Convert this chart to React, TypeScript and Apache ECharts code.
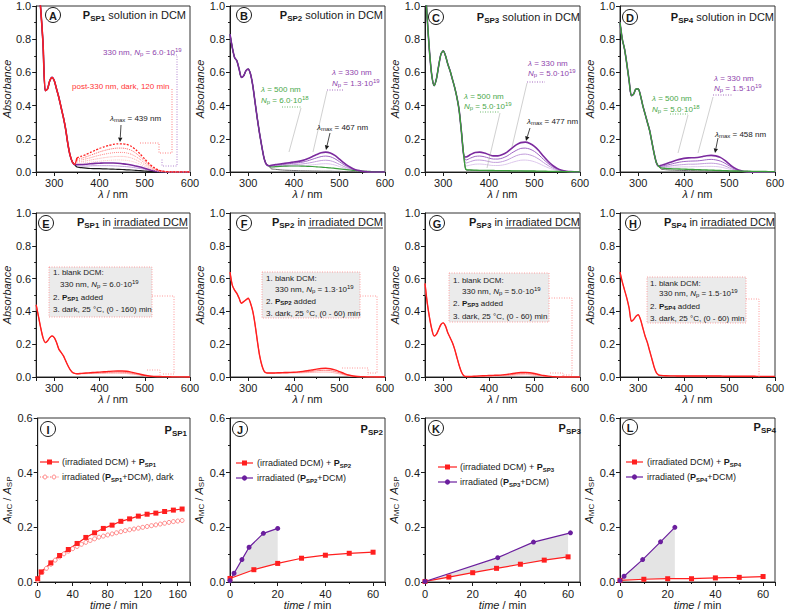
import React, { useEffect, useRef } from 'react';
import * as echarts from 'echarts';

const FONT = '"Liberation Sans", Arial, Helvetica, sans-serif';
const INK = '#1a1a1a';
const RED = '#ff1f1f';
const PURPLE = '#7b2a9e';
const PURPLE2 = '#a066c4';
const PURPLE3 = '#c29ddb';
const PURPLE4 = '#ddc8ec';
const GREEN = '#3b9e3b';
const GRAY = '#6a6a6a';
const TXT_PURPLE = '#8e44ad';
const TXT_GREEN = '#4aa84a';
const TXT_RED = '#ff3434';

// ---------- wavelengths ----------
const wlUV = [260, 265, 270, 275, 280, 285, 290, 295, 300, 305, 310, 315, 320, 325, 330, 335, 340, 345];
const wlVis = [350, 360, 370, 380, 390, 400, 410, 420, 430, 440, 450, 460, 470, 480, 490, 500, 510, 520, 530, 540, 550, 560, 570, 580, 590, 600];

// ---------- Panel A ----------
const uvA = [1.25, 1.12, 0.98, 0.78, 0.49, 0.50, 0.55, 0.57, 0.55, 0.50, 0.45, 0.39, 0.33, 0.26, 0.17, 0.10, 0.06, 0.045];
const visA_black = [0.030, 0.026, 0.023, 0.021, 0.020, 0.020, 0.019, 0.018, 0.017, 0.016, 0.015, 0.013, 0.012, 0.010, 0.008, 0.006, 0.004, 0.003, 0.002, 0.001, 0, 0, 0, 0, 0, 0];
const visA_purple = [0.045, 0.045, 0.047, 0.050, 0.052, 0.053, 0.054, 0.054, 0.054, 0.053, 0.050, 0.047, 0.042, 0.036, 0.030, 0.022, 0.014, 0.008, 0.004, 0.002, 0, 0, 0, 0, 0, 0];
const visA_purpleLight = [0.038, 0.036, 0.036, 0.037, 0.038, 0.038, 0.038, 0.038, 0.037, 0.036, 0.034, 0.032, 0.029, 0.025, 0.021, 0.016, 0.010, 0.006, 0.003, 0.001, 0, 0, 0, 0, 0, 0];
const visA_red1 = [0.085, 0.095, 0.105, 0.118, 0.130, 0.142, 0.152, 0.160, 0.166, 0.170, 0.170, 0.166, 0.155, 0.135, 0.108, 0.078, 0.050, 0.028, 0.012, 0.005, 0.002, 0, 0, 0, 0, 0];
const visA_red2 = [0.076, 0.083, 0.091, 0.101, 0.111, 0.121, 0.129, 0.136, 0.141, 0.144, 0.144, 0.140, 0.131, 0.114, 0.091, 0.066, 0.042, 0.024, 0.010, 0.004, 0.001, 0, 0, 0, 0, 0];
const visA_red3 = [0.068, 0.073, 0.079, 0.086, 0.094, 0.101, 0.107, 0.112, 0.116, 0.118, 0.118, 0.115, 0.107, 0.093, 0.075, 0.054, 0.035, 0.019, 0.008, 0.003, 0.001, 0, 0, 0, 0, 0];
const visA_red4 = [0.060, 0.063, 0.067, 0.072, 0.077, 0.082, 0.086, 0.090, 0.092, 0.094, 0.094, 0.091, 0.085, 0.074, 0.059, 0.043, 0.027, 0.015, 0.007, 0.003, 0.001, 0, 0, 0, 0, 0];
const visA_red5 = [0.052, 0.054, 0.056, 0.059, 0.062, 0.065, 0.068, 0.070, 0.072, 0.073, 0.072, 0.070, 0.065, 0.057, 0.046, 0.033, 0.021, 0.012, 0.005, 0.002, 0.001, 0, 0, 0, 0, 0];

// ---------- Panel B ----------
const uvB = [0.83, 0.75, 0.69, 0.67, 0.62, 0.57, 0.58, 0.61, 0.62, 0.59, 0.52, 0.42, 0.32, 0.23, 0.15, 0.08, 0.045, 0.038];
const visB_p1 = [0.040, 0.045, 0.048, 0.052, 0.056, 0.060, 0.064, 0.070, 0.080, 0.092, 0.105, 0.116, 0.120, 0.115, 0.100, 0.078, 0.055, 0.035, 0.020, 0.010, 0.005, 0.002, 0, 0, 0, 0];
const visB_p2 = [0.037, 0.041, 0.044, 0.047, 0.050, 0.053, 0.056, 0.060, 0.067, 0.076, 0.085, 0.093, 0.096, 0.092, 0.080, 0.062, 0.044, 0.028, 0.016, 0.008, 0.004, 0.001, 0, 0, 0, 0];
const visB_p3 = [0.033, 0.036, 0.038, 0.040, 0.042, 0.044, 0.046, 0.049, 0.053, 0.058, 0.064, 0.069, 0.071, 0.068, 0.059, 0.046, 0.033, 0.021, 0.012, 0.006, 0.003, 0.001, 0, 0, 0, 0];
const visB_p4 = [0.030, 0.032, 0.033, 0.034, 0.035, 0.036, 0.037, 0.038, 0.040, 0.043, 0.046, 0.049, 0.050, 0.048, 0.042, 0.033, 0.024, 0.015, 0.009, 0.004, 0.002, 0.001, 0, 0, 0, 0];
const visB_green = [0.030, 0.032, 0.034, 0.035, 0.036, 0.036, 0.036, 0.035, 0.034, 0.033, 0.031, 0.029, 0.027, 0.025, 0.022, 0.019, 0.016, 0.013, 0.010, 0.008, 0.006, 0.004, 0.003, 0.002, 0.001, 0.001];
const visB_gray = [0.020, 0.016, 0.013, 0.011, 0.010, 0.009, 0.008, 0.007, 0.007, 0.006, 0.006, 0.005, 0.005, 0.005, 0.004, 0.004, 0.003, 0.003, 0.002, 0.002, 0.002, 0.001, 0.001, 0.001, 0, 0];

// ---------- Panel C ----------
const uvC = [1.15, 0.92, 0.72, 0.58, 0.52, 0.56, 0.64, 0.71, 0.73, 0.70, 0.65, 0.61, 0.56, 0.51, 0.45, 0.37, 0.24, 0.10];
const visC_p1 = [0.090, 0.105, 0.118, 0.120, 0.115, 0.105, 0.097, 0.097, 0.105, 0.120, 0.142, 0.163, 0.177, 0.180, 0.172, 0.155, 0.128, 0.095, 0.065, 0.040, 0.022, 0.011, 0.005, 0.002, 0.001, 0];
const visC_p2 = [0.072, 0.084, 0.094, 0.096, 0.092, 0.084, 0.078, 0.078, 0.084, 0.096, 0.114, 0.130, 0.142, 0.144, 0.138, 0.124, 0.102, 0.076, 0.052, 0.032, 0.018, 0.009, 0.004, 0.002, 0.001, 0];
const visC_p3 = [0.054, 0.063, 0.071, 0.072, 0.069, 0.063, 0.058, 0.058, 0.063, 0.072, 0.085, 0.098, 0.106, 0.108, 0.103, 0.093, 0.077, 0.057, 0.039, 0.024, 0.013, 0.007, 0.003, 0.001, 0.001, 0];
const visC_p4 = [0.036, 0.042, 0.047, 0.048, 0.046, 0.042, 0.039, 0.039, 0.042, 0.048, 0.057, 0.065, 0.071, 0.072, 0.069, 0.062, 0.051, 0.038, 0.026, 0.016, 0.009, 0.004, 0.002, 0.001, 0, 0];
const visC_green = [0.015, 0.012, 0.011, 0.010, 0.010, 0.009, 0.009, 0.008, 0.008, 0.008, 0.007, 0.007, 0.007, 0.006, 0.006, 0.006, 0.005, 0.005, 0.004, 0.004, 0.003, 0.003, 0.002, 0.002, 0.001, 0.001];
const visC_gray = [0.012, 0.010, 0.009, 0.008, 0.008, 0.007, 0.007, 0.006, 0.006, 0.006, 0.005, 0.005, 0.005, 0.004, 0.004, 0.004, 0.003, 0.003, 0.003, 0.002, 0.002, 0.002, 0.001, 0.001, 0.001, 0];

// ---------- Panel D ----------
const uvD = [0.90, 0.80, 0.74, 0.65, 0.55, 0.46, 0.47, 0.50, 0.50, 0.46, 0.40, 0.35, 0.30, 0.25, 0.18, 0.11, 0.055, 0.035];
const visD_p1 = [0.040, 0.048, 0.058, 0.068, 0.076, 0.082, 0.085, 0.086, 0.087, 0.092, 0.098, 0.100, 0.097, 0.088, 0.070, 0.047, 0.026, 0.012, 0.005, 0.002, 0, 0, 0, 0, 0, 0];
const visD_p2 = [0.035, 0.040, 0.046, 0.053, 0.059, 0.063, 0.065, 0.066, 0.067, 0.070, 0.074, 0.076, 0.073, 0.066, 0.053, 0.036, 0.020, 0.009, 0.004, 0.001, 0, 0, 0, 0, 0, 0];
const visD_p3 = [0.030, 0.033, 0.036, 0.040, 0.043, 0.045, 0.047, 0.047, 0.048, 0.050, 0.052, 0.053, 0.051, 0.046, 0.037, 0.025, 0.014, 0.006, 0.003, 0.001, 0, 0, 0, 0, 0, 0];
const visD_p4 = [0.025, 0.026, 0.028, 0.029, 0.030, 0.031, 0.031, 0.032, 0.032, 0.033, 0.034, 0.034, 0.033, 0.030, 0.024, 0.017, 0.010, 0.005, 0.002, 0.001, 0, 0, 0, 0, 0, 0];
const visD_green = [0.025, 0.022, 0.020, 0.019, 0.018, 0.017, 0.016, 0.015, 0.014, 0.013, 0.012, 0.011, 0.010, 0.009, 0.008, 0.007, 0.006, 0.006, 0.005, 0.005, 0.004, 0.004, 0.003, 0.003, 0.002, 0.002];
const visD_gray = [0.018, 0.014, 0.012, 0.011, 0.010, 0.009, 0.008, 0.008, 0.007, 0.007, 0.006, 0.006, 0.005, 0.005, 0.005, 0.004, 0.004, 0.003, 0.003, 0.003, 0.002, 0.002, 0.002, 0.001, 0.001, 0.001];

// ---------- Panels E-H ----------
const uvE = [0.44, 0.37, 0.30, 0.24, 0.21, 0.22, 0.24, 0.25, 0.24, 0.21, 0.17, 0.15, 0.13, 0.10, 0.07, 0.045, 0.028, 0.022];
const visE_r1 = [0.020, 0.022, 0.024, 0.026, 0.028, 0.030, 0.032, 0.034, 0.036, 0.037, 0.037, 0.035, 0.030, 0.024, 0.017, 0.011, 0.006, 0.004, 0.003, 0.002, 0.002, 0.001, 0.001, 0.001, 0, 0];
const visE_r2 = [0.020, 0.021, 0.022, 0.024, 0.025, 0.026, 0.027, 0.028, 0.029, 0.030, 0.029, 0.027, 0.023, 0.019, 0.014, 0.009, 0.005, 0.003, 0.002, 0.002, 0.001, 0.001, 0.001, 0, 0, 0];
const visE_r3 = [0.019, 0.019, 0.020, 0.021, 0.021, 0.022, 0.022, 0.023, 0.023, 0.023, 0.022, 0.021, 0.018, 0.015, 0.011, 0.007, 0.004, 0.002, 0.001, 0.001, 0.001, 0, 0, 0, 0, 0];

const uvF = [0.64, 0.56, 0.53, 0.51, 0.48, 0.45, 0.46, 0.47, 0.48, 0.45, 0.40, 0.32, 0.22, 0.13, 0.07, 0.035, 0.025, 0.024];
const visF_r1 = [0.024, 0.025, 0.026, 0.027, 0.028, 0.029, 0.031, 0.034, 0.038, 0.043, 0.048, 0.052, 0.053, 0.050, 0.043, 0.033, 0.022, 0.012, 0.006, 0.003, 0.002, 0.001, 0.001, 0, 0, 0];
const visF_r2 = [0.024, 0.024, 0.025, 0.025, 0.026, 0.027, 0.028, 0.030, 0.032, 0.035, 0.038, 0.040, 0.041, 0.039, 0.034, 0.026, 0.017, 0.010, 0.005, 0.002, 0.001, 0.001, 0, 0, 0, 0];
const visF_r3 = [0.023, 0.023, 0.024, 0.024, 0.024, 0.025, 0.025, 0.026, 0.027, 0.028, 0.029, 0.030, 0.030, 0.029, 0.025, 0.019, 0.013, 0.007, 0.004, 0.002, 0.001, 0, 0, 0, 0, 0];

const uvG = [0.57, 0.45, 0.36, 0.29, 0.25, 0.26, 0.29, 0.32, 0.33, 0.31, 0.27, 0.24, 0.21, 0.17, 0.12, 0.07, 0.03, 0.008];
const visG_r1 = [0.003, 0.003, 0.005, 0.007, 0.008, 0.009, 0.010, 0.011, 0.013, 0.016, 0.020, 0.024, 0.027, 0.028, 0.026, 0.021, 0.015, 0.009, 0.005, 0.002, 0.001, 0, 0, 0, 0, 0];
const visG_r2 = [0.003, 0.003, 0.004, 0.005, 0.006, 0.007, 0.008, 0.009, 0.010, 0.012, 0.015, 0.018, 0.020, 0.021, 0.019, 0.016, 0.011, 0.007, 0.004, 0.002, 0.001, 0, 0, 0, 0, 0];
const visG_r3 = [0.002, 0.002, 0.003, 0.004, 0.004, 0.005, 0.005, 0.006, 0.007, 0.008, 0.010, 0.012, 0.013, 0.014, 0.013, 0.010, 0.007, 0.005, 0.003, 0.001, 0, 0, 0, 0, 0, 0];

const uvH = [0.64, 0.58, 0.53, 0.48, 0.42, 0.34, 0.35, 0.37, 0.38, 0.35, 0.30, 0.25, 0.21, 0.16, 0.11, 0.06, 0.025, 0.012];
const visH_r1 = [0.010, 0.008, 0.007, 0.007, 0.006, 0.006, 0.006, 0.006, 0.006, 0.006, 0.006, 0.006, 0.006, 0.006, 0.005, 0.005, 0.005, 0.005, 0.005, 0.005, 0.005, 0.004, 0.004, 0.004, 0.004, 0.004];
const visH_r2 = [0.009, 0.007, 0.006, 0.006, 0.005, 0.005, 0.005, 0.005, 0.005, 0.005, 0.005, 0.005, 0.005, 0.005, 0.004, 0.004, 0.004, 0.004, 0.004, 0.004, 0.004, 0.003, 0.003, 0.003, 0.003, 0.003];

// ---------- Panels I-L (kinetics) ----------
const I_tRed = [0, 4, 15, 25, 35, 45, 55, 65, 75, 85, 95, 105, 115, 125, 135, 145, 155, 165];
const I_vRed = [0.012, 0.037, 0.070, 0.097, 0.119, 0.141, 0.163, 0.180, 0.196, 0.208, 0.222, 0.231, 0.241, 0.248, 0.252, 0.258, 0.263, 0.267];
const I_tDark = [0, 5, 10, 15, 20, 25, 30, 35, 40, 45, 50, 55, 60, 65, 70, 75, 80, 85, 90, 95, 100, 105, 110, 115, 120, 125, 130, 135, 140, 145, 150, 155, 160, 165];
const I_vDark = [0.005, 0.035, 0.050, 0.065, 0.080, 0.092, 0.103, 0.113, 0.122, 0.130, 0.138, 0.145, 0.152, 0.158, 0.164, 0.168, 0.172, 0.176, 0.180, 0.184, 0.188, 0.191, 0.194, 0.197, 0.200, 0.203, 0.206, 0.209, 0.212, 0.215, 0.218, 0.221, 0.223, 0.225];

const J_tRed = [0, 10, 20, 30, 40, 50, 60];
const J_vRed = [0.013, 0.045, 0.068, 0.087, 0.098, 0.105, 0.109];
const J_tPur = [0, 1.7, 5, 8, 14, 20];
const J_vPur = [0.005, 0.032, 0.082, 0.127, 0.178, 0.196];
const J_shade = [[0, 0.005], [1.7, 0.032], [5, 0.082], [8, 0.127], [14, 0.178], [20, 0.196], [20, 0.068], [10, 0.045], [0, 0.013]];

const K_tRed = [0, 10, 20, 30, 40, 50, 60];
const K_vRed = [0.002, 0.018, 0.034, 0.050, 0.065, 0.080, 0.092];
const K_tPur = [0, 30.5, 45.5, 61];
const K_vPur = [0.002, 0.089, 0.146, 0.180];
const K_shade = [[0, 0.002], [30.5, 0.089], [45.5, 0.146], [60, 0.178], [60, 0.092], [50, 0.080], [40, 0.065], [30, 0.050], [20, 0.034], [10, 0.018], [0, 0.002]];

const L_tRed = [0, 10, 20, 30, 40, 50, 60];
const L_vRed = [0.006, 0.010, 0.012, 0.012, 0.015, 0.017, 0.020];
const L_tPur = [0, 1.7, 9.5, 17, 23];
const L_vPur = [0.005, 0.021, 0.082, 0.147, 0.200];
const L_shade = [[0, 0.005], [1.7, 0.021], [9.5, 0.082], [17, 0.147], [23, 0.200], [23, 0.012], [20, 0.012], [10, 0.010], [0, 0.006]];

// axis settings
const timeMax = [174, 65, 65, 65];
const timeInterval = [40, 20, 20, 20];
const LEFTS = [35, 230, 425, 620];
const TOPS = [6, 213, 418];
const HEIGHTS = [166, 164, 164];
const WIDTH = 155;

const wlAll = wlUV.concat(wlVis);
const zip = (xs: number[], ys: number[]) => xs.map((x, i) => [x, ys[i]]);

function specLine(gi: number, xs: number[], ys: number[], color: string, width = 1, type: any = 'solid', z = 2) {
  return {
    type: 'line', xAxisIndex: gi, yAxisIndex: gi, data: zip(xs, ys), symbol: 'none', smooth: 0.25,
    lineStyle: { color, width, type }, z, silent: true, animation: false,
  };
}

const axisCommon = {
  axisLine: { show: true, onZero: false, lineStyle: { color: INK, width: 1 } },
  axisTick: { show: true, inside: false, length: 4, lineStyle: { color: INK } },
  minorTick: { show: true, splitNumber: 2, length: 2, lineStyle: { color: INK } },
  splitLine: { show: false },
};

const axRich = (fs: number) => ({
  i: { fontFamily: FONT, fontSize: fs, fontStyle: 'italic', color: INK },
  n: { fontFamily: FONT, fontSize: fs, color: INK },
  s: { fontFamily: FONT, fontSize: Math.round(fs * 0.72), color: INK, verticalAlign: 'bottom', padding: [Math.round(fs * 0.5), 0, 0, 0] },
});

function specX(gi: number) {
  return {
    type: 'value', gridIndex: gi, min: 260, max: 600, splitNumber: 4,
    name: '{i|λ}{n| / nm}', nameLocation: 'middle', nameGap: 13,
    nameTextStyle: { fontFamily: FONT, fontSize: 11, color: INK, rich: axRich(11) },
    axisLabel: { margin: 5, fontFamily: FONT, fontSize: 11, color: INK, formatter: (v: number) => (v % 100 === 0 ? String(v) : '') },
    ...axisCommon,
  };
}
function timeX(gi: number, max: number, interval: number) {
  return {
    type: 'value', gridIndex: gi, min: 0, max, interval,
    name: '{i|time}{n| / min}', nameLocation: 'middle', nameGap: 16,
    nameTextStyle: { fontFamily: FONT, fontSize: 11, color: INK, rich: axRich(11) },
    axisLabel: { margin: 6, fontFamily: FONT, fontSize: 11, color: INK, formatter: (v: number) => (Math.abs(v % interval) < 1e-9 ? String(v) : '') },
    ...axisCommon,
  };
}
function absY(gi: number) {
  return {
    type: 'value', gridIndex: gi, min: 0, max: 1, interval: 0.2,
    name: 'Absorbance', nameLocation: 'middle', nameGap: 21,
    nameTextStyle: { fontFamily: FONT, fontSize: 11, fontStyle: 'italic', color: INK },
    axisLabel: { margin: 5, fontFamily: FONT, fontSize: 11, color: INK, formatter: (v: number) => v.toFixed(1) },
    ...axisCommon,
  };
}
function ratioY(gi: number) {
  return {
    type: 'value', gridIndex: gi, min: 0, max: 0.6, interval: 0.2,
    name: '{i|A}{s|MC}{n| / }{i|A}{s|SP}', nameLocation: 'middle', nameGap: 21,
    nameTextStyle: { fontFamily: FONT, fontSize: 11, color: INK, rich: axRich(11) },
    axisLabel: { margin: 5, fontFamily: FONT, fontSize: 11, color: INK, formatter: (v: number) => v.toFixed(1) },
    ...axisCommon,
  };
}

// ---------- graphic helpers ----------
const gRich = (fs: number) => {
  const sfs = Math.round(fs * 0.72);
  const pad = Math.round(fs * 0.5);
  return {
    n: { fontFamily: FONT, fontSize: fs },
    i: { fontFamily: FONT, fontSize: fs, fontStyle: 'italic' },
    b: { fontFamily: FONT, fontSize: fs, fontWeight: 'bold' },
    s: { fontFamily: FONT, fontSize: sfs, verticalAlign: 'bottom', padding: [pad, 0, 0, 0] },
    bs: { fontFamily: FONT, fontSize: sfs, fontWeight: 'bold', verticalAlign: 'bottom', padding: [pad, 0, 0, 0] },
    u: { fontFamily: FONT, fontSize: sfs, verticalAlign: 'top', padding: [0, 0, pad, 0] },
  };
};
function T(x: number, y: number, text: string, fs: number, fill: string, align = 'left', extra: any = {}) {
  return {
    type: 'text', x, y, z: 100, silent: true,
    style: { text, fill, fontFamily: FONT, fontSize: fs, textAlign: align, textVerticalAlign: 'middle', rich: gRich(fs), ...extra },
  };
}
function L(x1: number, y1: number, x2: number, y2: number, stroke: string, lineWidth = 0.8, dash: any = null) {
  return { type: 'line', z: 99, silent: true, shape: { x1, y1, x2, y2 }, style: { stroke, lineWidth, lineDash: dash } };
}
function PL(points: number[][], stroke: string, lineWidth = 0.8, dash: any = [1, 1.5]) {
  return { type: 'polyline', z: 99, silent: true, shape: { points }, style: { stroke, lineWidth, lineDash: dash, fill: null } };
}
function arrow(x1: number, y1: number, x2: number, y2: number) {
  const ang = Math.atan2(y2 - y1, x2 - x1);
  const hl = 4.5, hw = 2.2;
  const bx = x2 - hl * Math.cos(ang), by = y2 - hl * Math.sin(ang);
  const px = -Math.sin(ang) * hw, py = Math.cos(ang) * hw;
  return [
    L(x1, y1, bx, by, INK, 0.8),
    { type: 'polygon', z: 99, silent: true, shape: { points: [[x2, y2], [bx + px, by + py], [bx - px, by - py]] }, style: { fill: INK } },
  ];
}
function circleLabel(cx: number, cy: number, letter: string) {
  return [
    { type: 'circle', z: 100, silent: true, shape: { cx, cy, r: 7.5 }, style: { fill: '#fff', stroke: INK, lineWidth: 1 } },
    { type: 'text', z: 101, silent: true, x: cx, y: cy + 0.5, style: { text: letter, fill: INK, fontFamily: FONT, fontSize: 11, fontWeight: 'bold', textAlign: 'center', textVerticalAlign: 'middle' } },
  ];
}
function legendRow(x1: number, x2: number, y: number, color: string, kind: string, text: string, tx: number) {
  const out: any[] = [L(x1, y, x2, y, color, 1.2, kind === 'open' ? [1, 1.5] : null)];
  const mx = (x1 + x2) / 2;
  if (kind === 'sq') out.push({ type: 'rect', z: 100, silent: true, shape: { x: mx - 2.5, y: y - 2.5, width: 5, height: 5 }, style: { fill: color } });
  if (kind === 'dot') out.push({ type: 'circle', z: 100, silent: true, shape: { cx: mx, cy: y, r: 2.6 }, style: { fill: color } });
  if (kind === 'open') {
    out.push({ type: 'circle', z: 100, silent: true, shape: { cx: x1 + 5, cy: y, r: 2 }, style: { fill: '#fff', stroke: color, lineWidth: 0.8 } });
    out.push({ type: 'circle', z: 100, silent: true, shape: { cx: x2 - 5, cy: y, r: 2 }, style: { fill: '#fff', stroke: color, lineWidth: 0.8 } });
  }
  out.push(T(tx, y, text, 9, INK));
  return out;
}

function buildOption() {
  const grid: any[] = [], xAxis: any[] = [], yAxis: any[] = [], series: any[] = [];
  for (let r = 0; r < 3; r++) {
    for (let c = 0; c < 4; c++) {
      const gi = r * 4 + c;
      grid.push({ left: LEFTS[c], top: TOPS[r], width: WIDTH, height: HEIGHTS[r], show: true, borderColor: '#333', borderWidth: 1 });
      xAxis.push(r < 2 ? specX(gi) : timeX(gi, timeMax[c], timeInterval[c]));
      yAxis.push(r < 2 ? absY(gi) : ratioY(gi));
    }
  }
  const full = (uv: number[], vis: number[]) => uv.concat(vis);

  // A
  series.push(specLine(0, wlAll, full(uvA, visA_purpleLight), PURPLE3, 1));
  series.push(specLine(0, wlAll, full(uvA, visA_black), INK, 1.2));
  series.push(specLine(0, wlAll, full(uvA, visA_purple), PURPLE, 1.6));
  series.push(specLine(0, wlVis, visA_red5, '#ffc4c4', 1, 'dotted'));
  series.push(specLine(0, wlVis, visA_red4, '#ffa6a6', 1, 'dotted'));
  series.push(specLine(0, wlVis, visA_red3, '#ff8585', 1, 'dotted'));
  series.push(specLine(0, wlVis, visA_red2, '#ff6060', 1, 'dotted'));
  series.push(specLine(0, wlVis, visA_red1, RED, 1.3, [2, 1.5], 3));
  series.push(specLine(0, wlUV.concat([350]), uvA.concat([visA_red1[0]]), RED, 1.5, 'solid', 3));

  // B
  series.push(specLine(1, wlAll, full(uvB, visB_p4), PURPLE4, 1));
  series.push(specLine(1, wlAll, full(uvB, visB_p3), PURPLE3, 1));
  series.push(specLine(1, wlAll, full(uvB, visB_p2), PURPLE2, 1));
  series.push(specLine(1, wlAll, full(uvB, visB_gray), GRAY, 1));
  series.push(specLine(1, wlAll, full(uvB, visB_green), GREEN, 1.2));
  series.push(specLine(1, wlAll, full(uvB, visB_p1), PURPLE, 1.6, 'solid', 3));

  // C
  series.push(specLine(2, wlAll, full(uvC, visC_p4), PURPLE4, 1));
  series.push(specLine(2, wlAll, full(uvC, visC_p3), PURPLE3, 1));
  series.push(specLine(2, wlAll, full(uvC, visC_p2), PURPLE2, 1));
  series.push(specLine(2, wlAll, full(uvC, visC_p1), PURPLE, 1.6));
  series.push(specLine(2, wlAll, full(uvC, visC_gray), GRAY, 1));
  series.push(specLine(2, wlAll, full(uvC, visC_green), GREEN, 1.3, 'solid', 3));

  // D
  series.push(specLine(3, wlAll, full(uvD, visD_p4), PURPLE4, 1));
  series.push(specLine(3, wlAll, full(uvD, visD_p3), PURPLE3, 1));
  series.push(specLine(3, wlAll, full(uvD, visD_p2), PURPLE2, 1));
  series.push(specLine(3, wlAll, full(uvD, visD_p1), PURPLE, 1.6));
  series.push(specLine(3, wlAll, full(uvD, visD_gray), GRAY, 1));
  series.push(specLine(3, wlAll, full(uvD, visD_green), GREEN, 1.3, 'solid', 3));

  // E-H
  const rowTwo: [number, number[], number[][]][] = [
    [4, uvE, [visE_r3, visE_r2, visE_r1]],
    [5, uvF, [visF_r3, visF_r2, visF_r1]],
    [6, uvG, [visG_r3, visG_r2, visG_r1]],
    [7, uvH, [visH_r2, visH_r1]],
  ];
  const reds = ['#ffb8b8', '#ff7d7d', RED];
  rowTwo.forEach(([gi, uv, viss]) => {
    viss.forEach((v, k) => {
      const col = reds[reds.length - viss.length + k];
      series.push(specLine(gi, wlAll, full(uv, v), col, k === viss.length - 1 ? 1.4 : 1));
    });
  });

  // I
  series.push({
    type: 'line', xAxisIndex: 8, yAxisIndex: 8, data: zip(I_tDark, I_vDark), symbol: 'circle', symbolSize: 4,
    lineStyle: { color: '#ff7070', width: 1, type: 'dotted' }, itemStyle: { color: '#fff', borderColor: '#ff6a6a', borderWidth: 0.8 }, silent: true,
  });
  series.push({
    type: 'line', xAxisIndex: 8, yAxisIndex: 8, data: zip(I_tRed, I_vRed), symbol: 'rect', symbolSize: 5,
    lineStyle: { color: RED, width: 1.2 }, itemStyle: { color: RED }, silent: true,
  });

  const shadeSeries = (gi: number, pts: number[][]) => ({
    type: 'custom', xAxisIndex: gi, yAxisIndex: gi, data: [[0, 0]], silent: true, z: 1,
    renderItem: (_p: any, api: any) => ({
      type: 'polygon', shape: { points: pts.map((p) => api.coord(p)) }, style: { fill: '#e4e4e4', stroke: null },
    }),
  });
  const kin: [number, number[], number[], number[], number[], number[][]][] = [
    [9, J_tRed, J_vRed, J_tPur, J_vPur, J_shade],
    [10, K_tRed, K_vRed, K_tPur, K_vPur, K_shade],
    [11, L_tRed, L_vRed, L_tPur, L_vPur, L_shade],
  ];
  kin.forEach(([gi, tr, vr, tp, vp, sh]) => {
    series.push(shadeSeries(gi, sh));
    series.push({
      type: 'line', xAxisIndex: gi, yAxisIndex: gi, data: zip(tr, vr), symbol: 'rect', symbolSize: 5,
      lineStyle: { color: RED, width: 1.2 }, itemStyle: { color: RED }, silent: true, z: 3,
    });
    series.push({
      type: 'line', xAxisIndex: gi, yAxisIndex: gi, data: zip(tp, vp), symbol: 'circle', symbolSize: 5,
      lineStyle: { color: '#6b1f9e', width: 1.2 }, itemStyle: { color: '#6b1f9e' }, silent: true, z: 3,
    });
  });

  // ---------- graphic ----------
  const g: any[] = [];
  const circ: [number, number, string][] = [
    [53, 15, 'A'], [244, 15, 'B'], [436, 17, 'C'], [630, 17, 'D'],
    [46, 223, 'E'], [244, 223, 'F'], [437, 223, 'G'], [633, 223, 'H'],
    [48, 429, 'I'], [240, 429, 'J'], [436, 428, 'K'], [630, 427, 'L'],
  ];
  circ.forEach(([x, y, l]) => g.push(...circleLabel(x, y, l)));

  const t1: [number, number, string][] = [[186, 15, '1'], [383, 15, '2'], [580, 17, '3'], [774, 17, '4']];
  t1.forEach(([x, y, n]) => g.push(T(x, y, `{b|P}{bs|SP${n}} solution in DCM`, 11, INK, 'right')));
  const t2: [number, number, string][] = [[188, 222, '1'], [383, 222, '2'], [580, 222, '3'], [775, 222, '4']];
  t2.forEach(([x, y, n]) => {
    g.push(T(x, y, `{b|P}{bs|SP${n}} in irradiated DCM`, 11, INK, 'right'));
    g.push(L(x - 75, y + 6, x, y + 6, INK, 0.9));
  });
  const t3: [number, number, string][] = [[187, 430, '1'], [383, 429, '2'], [581, 428, '3'], [776, 427, '4']];
  t3.forEach(([x, y, n]) => g.push(T(x, y, `{b|P}{bs|SP${n}}`, 11, INK, 'right')));

  // Panel A annotations
  g.push(T(103, 52, '330 nm, {i|N}{s|p} = 6.0·10{u|19}', 8, TXT_PURPLE));
  g.push(T(72, 86, 'post-330 nm, dark, 120 min', 8, TXT_RED));
  g.push(T(110, 118, '{i|λ}{s|max} = 439 nm', 8, INK));
  g.push(...arrow(121, 125, 120, 142));
  g.push(PL([[171, 55], [177, 55], [177, 166], [162, 166], [162, 158]], PURPLE2));
  g.push(PL([[172, 89], [172, 153], [159, 153], [159, 143], [140, 143]], '#ff5a5a'));

  // Panel B
  g.push(T(261, 89, '{i|λ} = 500 nm', 8, TXT_GREEN));
  g.push(T(261, 100, '{i|N}{s|p} = 6.0·10{u|18}', 8, TXT_GREEN));
  g.push(L(282, 107, 302, 107, TXT_GREEN, 0.8, [1, 1.5]));
  g.push(L(301, 108, 289, 152, '#b0b0b0', 0.6));
  g.push(T(332, 72, '{i|λ} = 330 nm', 8, TXT_PURPLE));
  g.push(T(332, 83, '{i|N}{s|p} = 1.3·10{u|19}', 8, TXT_PURPLE));
  g.push(L(327, 90, 343, 90, TXT_PURPLE, 0.8, [1, 1.5]));
  g.push(L(327, 91, 313, 152, '#b0b0b0', 0.6));
  g.push(T(317, 127, '{i|λ}{s|max} = 467 nm', 8, INK));
  g.push(...arrow(330, 133, 326, 150));

  // Panel C
  g.push(T(464, 96, '{i|λ} = 500 nm', 8, TXT_GREEN));
  g.push(T(464, 106, '{i|N}{s|p} = 5.0·10{u|19}', 8, TXT_GREEN));
  g.push(L(480, 112, 500, 112, TXT_GREEN, 0.8, [1, 1.5]));
  g.push(L(500, 113, 487, 168, '#b0b0b0', 0.6));
  g.push(T(528, 63, '{i|λ} = 330 nm', 8, TXT_PURPLE));
  g.push(T(528, 73, '{i|N}{s|p} = 5.0·10{u|19}', 8, TXT_PURPLE));
  g.push(L(527, 82, 545, 82, TXT_PURPLE, 0.8, [1, 1.5]));
  g.push(L(527, 83, 512, 147, '#b0b0b0', 0.6));
  g.push(T(527, 121, '{i|λ}{s|max} = 477 nm', 8, INK));
  g.push(...arrow(530, 128, 526, 141));

  // Panel D
  g.push(T(652, 98, '{i|λ} = 500 nm', 8, TXT_GREEN));
  g.push(T(652, 109, '{i|N}{s|p} = 5.0·10{u|18}', 8, TXT_GREEN));
  g.push(L(670, 114, 688, 114, TXT_GREEN, 0.8, [1, 1.5]));
  g.push(L(688, 115, 678, 153, '#b0b0b0', 0.6));
  g.push(T(714, 78, '{i|λ} = 330 nm', 8, TXT_PURPLE));
  g.push(T(714, 88, '{i|N}{s|p} = 1.5·10{u|19}', 8, TXT_PURPLE));
  g.push(L(713, 95, 732, 95, TXT_PURPLE, 0.8, [1, 1.5]));
  g.push(L(713, 97, 698, 153, '#b0b0b0', 0.6));
  g.push(T(715, 134, '{i|λ}{s|max} = 458 nm', 8, INK));
  g.push(...arrow(718, 138, 715, 153));

  // Row 2 boxes
  const boxes: [number, number, number, number, number, number, number, number[], string, string][] = [
    [49, 267, 103, 50, 53, 60, 0, [272, 284, 297, 309], '6.0', '160'],
    [262, 272, 98, 46, 266, 275, 0, [278, 289, 301, 313], '1.3', '60'],
    [449, 273, 100, 49, 453, 462, 0, [280, 291, 303, 316], '5.0', '60'],
    [647, 277, 99, 46, 650, 659, 0, [283, 293, 306, 318], '1.5', '60'],
  ];
  boxes.forEach(([bx, by, bw, bh, tx, ix, _u, ys, np, tm], k) => {
    g.push({ type: 'rect', z: 98, silent: true, shape: { x: bx, y: by, width: bw, height: bh }, style: { fill: '#ebebeb', stroke: '#ff8a8a', lineWidth: 0.8, lineDash: [1, 1.5] } });
    g.push(T(tx, ys[0], '1. blank DCM:', 8, INK));
    g.push(T(ix, ys[1], `330 nm, {i|N}{s|p} = ${np}·10{u|19}`, 8, INK));
    g.push(T(tx, ys[2], `2. {b|P}{bs|SP${k + 1}} added`, 8, INK));
    g.push(T(tx, ys[3], `3. dark, 25 °C, (0 - ${tm}) min`, 8, INK));
  });
  const rd = '#ff8080';
  g.push(PL([[152, 296], [174, 296], [174, 374], [163, 374]], rd));
  g.push(PL([[147, 370], [160, 370], [160, 375]], rd));
  g.push(PL([[360, 296], [377, 296], [377, 373], [368, 373]], rd));
  g.push(PL([[342, 368], [368, 368], [368, 375]], rd));
  g.push(PL([[549, 298], [572, 298], [572, 375], [563, 375]], rd));
  g.push(PL([[550, 373], [563, 373], [563, 376]], rd));
  g.push(PL([[746, 299], [759, 299], [759, 377]], rd));

  // Row 3 legends
  g.push(...legendRow(40, 59, 462, RED, 'sq', '(irradiated DCM) + {b|P}{bs|SP1}', 62));
  g.push(...legendRow(40, 59, 477, '#ff6a6a', 'open', 'irradiated ({b|P}{bs|SP1}+DCM), dark', 62));
  g.push(...legendRow(236, 253, 463, RED, 'sq', '(irradiated DCM) + {b|P}{bs|SP2}', 257));
  g.push(...legendRow(236, 253, 478, '#6b1f9e', 'dot', 'irradiated ({b|P}{bs|SP2}+DCM)', 257));
  g.push(...legendRow(438, 457, 467, RED, 'sq', '(irradiated DCM) + {b|P}{bs|SP3}', 460));
  g.push(...legendRow(438, 457, 482, '#6b1f9e', 'dot', 'irradiated ({b|P}{bs|SP3}+DCM)', 460));
  g.push(...legendRow(626, 643, 462, RED, 'sq', '(irradiated DCM) + {b|P}{bs|SP4}', 647));
  g.push(...legendRow(626, 643, 477, '#6b1f9e', 'dot', 'irradiated ({b|P}{bs|SP4}+DCM)', 647));

  return {
    animation: false,
    backgroundColor: '#ffffff',
    textStyle: { fontFamily: FONT },
    grid, xAxis, yAxis, series,
    graphic: { elements: g },
  };
}

export default function App() {
  const ref = useRef<HTMLDivElement>(null);
  useEffect(() => {
    if (!ref.current) return;
    const chart = echarts.init(ref.current, null, { renderer: 'svg' });
    chart.setOption(buildOption() as any);
    return () => chart.dispose();
  }, []);
  return (
    <div
      ref={ref}
      style={{ position: 'fixed', left: 0, top: 0, width: 789, height: 614, background: '#fff' }}
    />
  );
}
